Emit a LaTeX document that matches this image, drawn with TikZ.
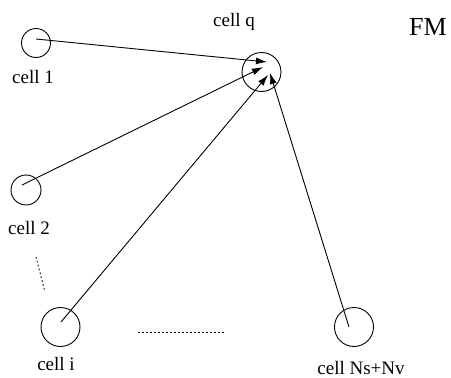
\documentclass[tikz,border=0pt]{standalone}
\usepackage{fontspec}
\setmainfont{Liberation Serif}
\usetikzlibrary{arrows.meta}
\begin{document}
\begin{tikzpicture}[x=1pt,y=-1pt,line width=0.9pt,
  cellc/.style={draw,circle,inner sep=0pt},
  lbl/.style={anchor=base,inner sep=0pt,font=\fontsize{19}{22}\selectfont},
  arr/.style={-{Latex[length=11pt,width=7pt]}},
  dots/.style={dash pattern=on 1.6pt off 2.4pt}]
\useasboundingbox (0,0) rectangle (451,378);
% circles
\node[cellc,minimum size=29pt] (c1) at (36,43) {};
\node[cellc,minimum size=30pt] (c2) at (26,190) {};
\node[cellc,minimum size=39pt] (cq) at (261.5,72) {};
\node[cellc,minimum size=39pt] (ci) at (60.5,327) {};
\node[cellc,minimum size=39pt] (cn) at (354,327) {};
% labels
\node[lbl] (l1) at (33,83) {cell 1};
\node[lbl] (l2) at (29,234) {cell 2};
\node[lbl] (lq) at (234,26) {cell q};
\node[lbl] (li) at (56,370) {cell i};
\node[lbl] (ln) at (361,374) {cell Ns+Nv};
\node[anchor=base,inner sep=0pt,font=\fontsize{26}{30}\selectfont] (fm) at (428,35) {FM};
% connector end points
\coordinate (s1) at (36,39);
\coordinate (s2) at (22,185);
\coordinate (si) at (61,322);
\coordinate (sn) at (349,327);
\coordinate (t1) at (267,62);
\coordinate (t2) at (263,67);
\coordinate (ti) at (268,75);
\coordinate (tn) at (270,73);
\draw[arr] (s1) -- (t1);
\draw[arr] (s2) -- (t2);
\draw[arr] (si) -- (ti);
\draw[arr] (sn) -- (tn);
% dotted ellipses
\coordinate (d1a) at (36,257);
\coordinate (d1b) at (45,292);
\coordinate (d2a) at (138,332);
\coordinate (d2b) at (225,332);
\draw[dots] (d1a) -- (d1b);
\draw[dots] (d2a) -- (d2b);
\end{tikzpicture}
\end{document}
